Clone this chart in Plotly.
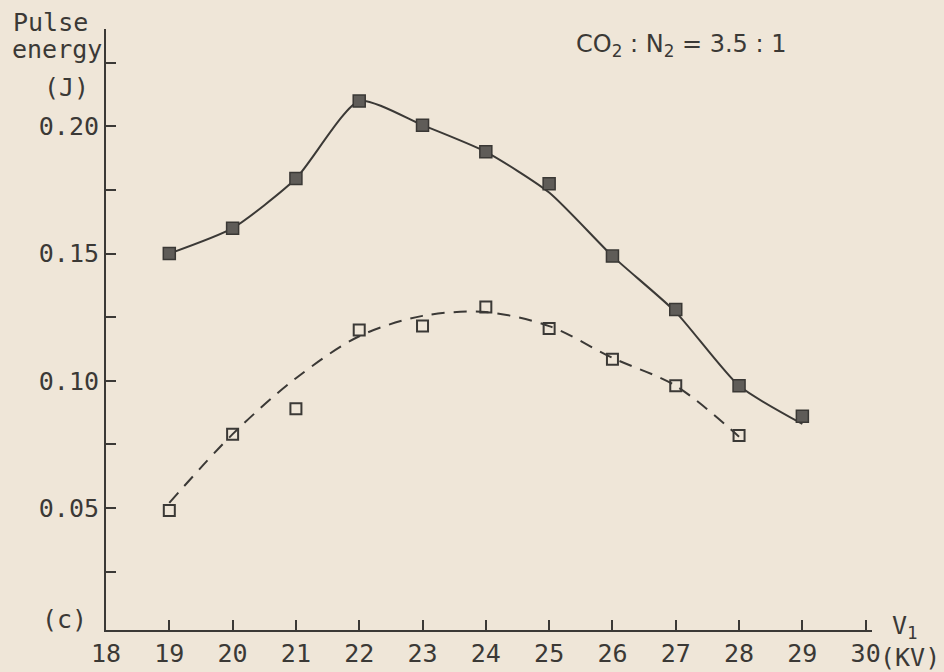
import plotly.graph_objects as go

# ---- data ----
voltage = [19, 20, 21, 22, 23, 24, 25, 26, 27, 28, 29]            # V1 (kV)
double_pulse = [0.150, 0.160, 0.1795, 0.210, 0.2005, 0.190, 0.1775, 0.149, 0.128, 0.098, 0.086]
double_curve = [0.150, 0.160, 0.1795, 0.210, 0.2005, 0.190, 0.174, 0.149, 0.127, 0.098, 0.083]

single_v = [19, 20, 21, 22, 23, 24, 25, 26, 27, 28]
single_pulse = [0.049, 0.079, 0.089, 0.120, 0.1215, 0.129, 0.1205, 0.1085, 0.098, 0.0785]
single_curve = [0.052, 0.079, 0.101, 0.1175, 0.1255, 0.127, 0.1215, 0.109, 0.098, 0.078]

x_ticks = list(range(18, 31))
y_ticks = [0.025, 0.05, 0.075, 0.10, 0.125, 0.15, 0.175, 0.20, 0.225]
y_tick_text = ["", "0.05", "", "0.10", "", "0.15", "", "0.20", ""]

INK = "#3b3936"
PAPER = "#efe6d8"
MONO = "DejaVu Sans Mono"
SANS = "DejaVu Sans"

fig = go.Figure()

fig.add_trace(go.Scatter(
    x=voltage, y=double_curve, mode="lines",
    line=dict(color=INK, width=2, shape="spline", smoothing=0.6),
    hoverinfo="skip", showlegend=False))
fig.add_trace(go.Scatter(
    x=voltage, y=double_pulse, mode="markers", name="Double-pulse discharges",
    marker=dict(symbol="square", size=12, color="#5f5c58",
                line=dict(color="#3a3835", width=1.5)),
    showlegend=False))

fig.add_trace(go.Scatter(
    x=single_v, y=single_curve, mode="lines",
    line=dict(color=INK, width=2, dash="13px,9px", shape="spline", smoothing=0.9),
    hoverinfo="skip", showlegend=False))
fig.add_trace(go.Scatter(
    x=single_v, y=single_pulse, mode="markers", name="Single-pulse discharges",
    marker=dict(symbol="square-open", size=11, color=INK, line=dict(width=2)),
    showlegend=False))

W, H = 944, 672
L, R, T, B = 106, 72, 29, 42

# on-screen plot area (pixels) used to place the free texts
SX0, SX1 = L, W - R
SY0, SY1 = T, H - B

def px(xp):
    return (xp - SX0) / (SX1 - SX0)

def py(yp):
    return (SY1 - yp) / (SY1 - SY0)

def label(text, x, y, family=MONO, size=25, xanchor="center"):
    return dict(text=text, x=px(x), y=py(y), xref="paper", yref="paper",
                showarrow=False, xanchor=xanchor, yanchor="middle",
                font=dict(family=family, size=size, color=INK))

ann = [
    label("Pulse", 50, 22),
    label("energy", 57, 50),
    label("(J)", 66, 87),
    label("(c)", 64, 619),
    label("V<sub>1</sub>", 890, 627, xanchor="left"),
    label("(KV)", 942, 657, xanchor="right"),
    label("CO<sub>2</sub> : N<sub>2</sub> = 3.5 : 1", 574, 46, family=SANS, size=24, xanchor="left"),
]

fig.update_layout(
    width=W, height=H, autosize=False,
    margin=dict(l=L, r=R, t=T, b=B, autoexpand=False),
    paper_bgcolor=PAPER, plot_bgcolor=PAPER,
    font=dict(family=MONO, size=25, color=INK),
    annotations=ann,
    xaxis=dict(range=[18, 30.1], tickvals=x_ticks, ticktext=[str(v) for v in x_ticks],
               ticks="inside", ticklen=10, tickwidth=2, tickcolor=INK, automargin=False,
               showline=True, linecolor=INK, linewidth=2, showgrid=False, zeroline=False,
               tickfont=dict(family=MONO, size=25, color=INK)),
    yaxis=dict(range=[0.002, 0.2383], tickvals=y_ticks, ticktext=y_tick_text,
               ticks="inside", ticklen=10, tickwidth=2, tickcolor=INK, automargin=False,
               showline=True, linecolor=INK, linewidth=2, showgrid=False, zeroline=False,
               tickfont=dict(family=MONO, size=25, color=INK)),
)

fig.write_html("out.html", config={"responsive": False, "displayModeBar": False},
               post_script="document.body.style.margin='0';document.body.style.background='%s';" % PAPER)
